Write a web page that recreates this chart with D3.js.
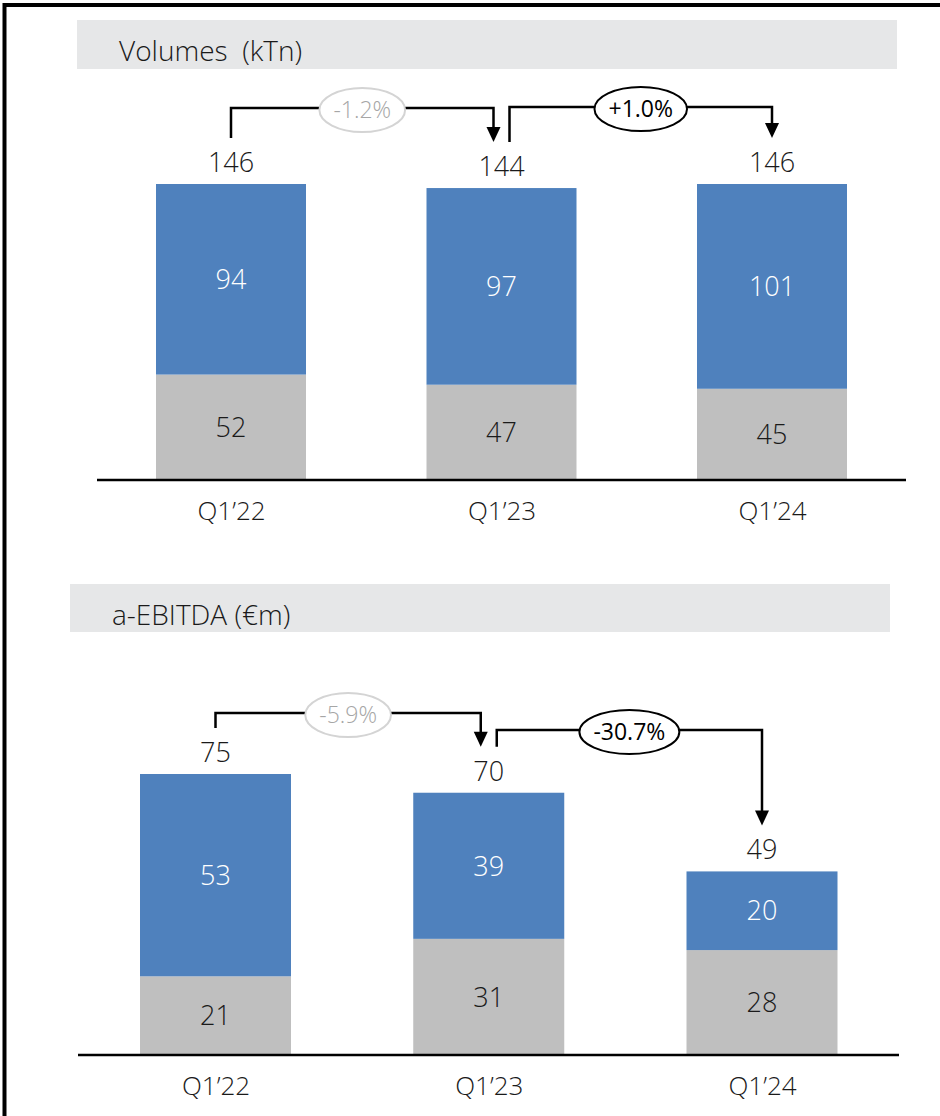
<!DOCTYPE html>
<html>
<head>
<meta charset="utf-8">
<script src="https://cdn.jsdelivr.net/npm/d3@7"></script>
<style>
  html, body { margin: 0; padding: 0; background: #fff; }
  svg { display: block; }
  text { font-family: "Open Sans", "Noto Sans", sans-serif; }
</style>
</head>
<body>
<svg id="chart" width="940" height="1116"></svg>
<script>
// ---------- data ----------
const categories = ["Q1’22", "Q1’23", "Q1’24"];

const volumesTitle = "Volumes  (kTn)";
const volumesGrey  = [52, 47, 45];
const volumesBlue  = [94, 97, 101];
const volumesTotal = [146, 144, 146];
const volumesChange = ["-1.2%", "+1.0%"];

const ebitdaTitle = "a-EBITDA (€m)";
const ebitdaGrey  = [21, 31, 28];
const ebitdaBlue  = [53, 39, 20];
const ebitdaTotal = [75, 70, 49];
const ebitdaChange = ["-5.9%", "-30.7%"];

// ---------- styles ----------
const BLUE = "#4f81bd", GREY = "#bfbfbf", BAND = "#e6e7e8";
const MUTED_STROKE = "#d4d4d4", MUTED_TEXT = "#a6a6a6";
const TEXT = "#1a1a1a";

const svg = d3.select("#chart");

// outer frame
svg.append("rect")
  .attr("x", 4.5).attr("y", 5).attr("width", 1000).attr("height", 1200)
  .attr("fill", "none").attr("stroke", "#000").attr("stroke-width", 4);

function drawPanel(cfg) {
  const g = svg.append("g");
  const x = d3.scalePoint().domain(categories).range(cfg.xRange);
  const y = d3.scaleLinear().domain([0, cfg.yMax]).range([cfg.base, cfg.yTopPx]);

  // title band
  g.append("rect").attr("x", cfg.band[0]).attr("y", cfg.band[1])
    .attr("width", cfg.band[2]).attr("height", cfg.band[3]).attr("fill", BAND);
  g.append("text").attr("x", cfg.titlePos[0]).attr("y", cfg.titlePos[1])
    .attr("font-size", 28).attr("fill", TEXT).attr("font-weight", 300)
    .style("white-space", "pre").text(cfg.title);

  const rows = categories.map((c, i) => ({
    c, grey: cfg.grey[i], blue: cfg.blue[i], total: cfg.total[i]
  }));
  const bw = cfg.barW;

  // grey segment
  g.selectAll(".g").data(rows).join("rect")
    .attr("x", d => x(d.c) - bw / 2).attr("width", bw)
    .attr("y", d => y(d.grey)).attr("height", d => y(0) - y(d.grey))
    .attr("fill", GREY);
  // blue segment
  g.selectAll(".b").data(rows).join("rect")
    .attr("x", d => x(d.c) - bw / 2).attr("width", bw)
    .attr("y", d => y(d.total)).attr("height", d => y(d.grey) - y(d.total))
    .attr("fill", BLUE);

  // segment labels
  g.selectAll(".gl").data(rows).join("text")
    .attr("x", d => x(d.c)).attr("y", d => (y(0) + y(d.grey)) / 2)
    .attr("dy", "0.36em").attr("text-anchor", "middle")
    .attr("font-size", 27).attr("fill", TEXT).attr("font-weight", 300)
    .text(d => d.grey);
  g.selectAll(".bl").data(rows).join("text")
    .attr("x", d => x(d.c)).attr("y", d => (y(d.grey) + y(d.total)) / 2)
    .attr("dy", "0.36em").attr("text-anchor", "middle")
    .attr("font-size", 27).attr("fill", "#fff").attr("font-weight", 300)
    .text(d => d.blue);
  // totals
  g.selectAll(".tl").data(rows).join("text")
    .attr("x", d => x(d.c)).attr("y", d => y(d.total) - 12)
    .attr("text-anchor", "middle")
    .attr("font-size", 27).attr("fill", TEXT).attr("font-weight", 300)
    .text(d => d.total);

  // baseline
  g.append("line").attr("x1", cfg.axisX[0]).attr("x2", cfg.axisX[1])
    .attr("y1", y(0)).attr("y2", y(0))
    .attr("stroke", "#000").attr("stroke-width", 2.5);

  // category axis
  const ax = g.append("g").attr("transform", `translate(0,${y(0)})`)
    .call(d3.axisBottom(x).tickSize(0).tickPadding(0));
  ax.select(".domain").remove();
  ax.selectAll("text").attr("y", 40).attr("dy", 0)
    .attr("font-size", 26).attr("fill", TEXT).attr("font-weight", 300)
    .style("font-family", "'Open Sans','Noto Sans',sans-serif");

  // change brackets
  const off = 8;
  cfg.change.forEach((lab, i) => {
    const a = rows[i], b = rows[i + 1];
    const x1 = x(a.c) + (i > 0 ? off : 0);
    const x2 = x(b.c) - (i + 1 < rows.length - 1 ? off : 0);
    const y1 = y(a.total) - 46;
    const y2 = y(b.total) - 46;
    const lv = cfg.levels[i];
    const ah = 15, aw = 7;
    g.append("path")
      .attr("d", `M${x1},${y1}V${lv}H${x2}V${y2 - ah + 1}`)
      .attr("fill", "none").attr("stroke", "#000").attr("stroke-width", 2.5);
    g.append("path")
      .attr("d", `M${x2 - aw},${y2 - ah}L${x2 + aw},${y2 - ah}L${x2},${y2}Z`)
      .attr("fill", "#000");

    const muted = cfg.muted[i];
    const cx = (x1 + x2) / 2, cy = lv + 2;
    const ell = g.append("ellipse").attr("cx", cx).attr("cy", cy)
      .attr("fill", "#fff")
      .attr("stroke", muted ? MUTED_STROKE : "#000").attr("stroke-width", 2);
    const t = g.append("text").attr("x", cx).attr("y", cy).attr("dy", "0.36em")
      .attr("text-anchor", "middle").attr("font-size", 23)
      .attr("fill", muted ? MUTED_TEXT : "#000")
      .attr("font-weight", muted ? 300 : 400)
      .text(lab);
    const w = t.node().getComputedTextLength();
    ell.attr("rx", w / 2 + 14).attr("ry", 22);
  });
}

drawPanel({
  title: volumesTitle, grey: volumesGrey, blue: volumesBlue, total: volumesTotal,
  change: volumesChange, muted: [true, false],
  xRange: [231, 772], barW: 150, yMax: 146, base: 480, yTopPx: 184,
  axisX: [97, 906], band: [77, 20, 820, 49], titlePos: [119, 61],
  levels: [108, 107]
});

drawPanel({
  title: ebitdaTitle, grey: ebitdaGrey, blue: ebitdaBlue, total: ebitdaTotal,
  change: ebitdaChange, muted: [true, false],
  xRange: [215.5, 762], barW: 151, yMax: 75, base: 1055, yTopPx: 774,
  axisX: [78, 899], band: [70, 584, 820, 48], titlePos: [112, 625],
  levels: [713, 730]
});
</script>
</body>
</html>
